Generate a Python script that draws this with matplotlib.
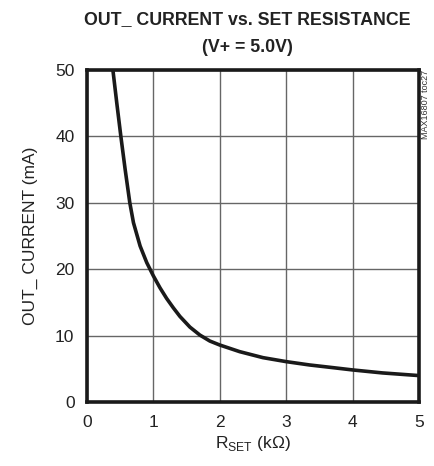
import matplotlib
matplotlib.use("Agg")
import matplotlib.pyplot as plt

# values
r_set = [0.39, 0.45, 0.51, 0.575, 0.645, 0.70, 0.80, 0.90, 1.0, 1.1, 1.2,
         1.3, 1.4, 1.55, 1.7, 1.85, 2.0, 2.3, 2.65, 3.0, 3.35, 3.7, 4.0,
         4.45, 5.0]
i_out = [50.0, 44.9, 40.0, 35.0, 30.0, 27.0, 23.5, 21.0, 19.0, 17.2, 15.6,
         14.2, 12.9, 11.3, 10.1, 9.2, 8.6, 7.6, 6.7, 6.1, 5.6, 5.2, 4.85,
         4.4, 4.0]
x_ticks = [0, 1, 2, 3, 4, 5]
y_ticks = [0, 10, 20, 30, 40, 50]

plt.rcParams['font.family'] = ['Liberation Sans', 'DejaVu Sans']
plt.rcParams['mathtext.fontset'] = 'custom'
plt.rcParams['mathtext.rm'] = 'Liberation Sans'

fig = plt.figure(figsize=(4.35, 4.66), dpi=100)
ax = fig.add_axes([0.2, 0.137, 0.763, 0.713])

ax.plot(r_set, i_out, color='#1a1a1a', linewidth=2.6, solid_capstyle='butt',
        solid_joinstyle='round', zorder=3)

ax.set_xlim(0, 5)
ax.set_ylim(0, 50)
ax.set_xticks(x_ticks)
ax.set_yticks(y_ticks)
ax.tick_params(length=0, labelsize=12.5, pad=9, colors='#222222')
ax.grid(True, color='#666666', linewidth=1.0)
ax.set_axisbelow(True)
for s in ax.spines.values():
    s.set_linewidth(2.6)
    s.set_color('#1a1a1a')

ax.set_xlabel(r'R$_{\mathregular{SET}}$ (k$\Omega$)', fontsize=12.5, labelpad=3, color='#222222')
ax.set_ylabel('OUT_ CURRENT (mA)', fontsize=12.5, labelpad=12, color='#222222')

fig.text(0.569, 0.958, 'OUT_ CURRENT vs. SET RESISTANCE', ha='center', va='center',
         fontsize=12.8, fontweight='bold', color='#222222')
fig.text(0.569, 0.899, '(V+ = 5.0V)', ha='center', va='center',
         fontsize=12.8, fontweight='bold', color='#222222')
fig.text(0.978, 0.85, 'MAX16807 toc27', rotation=90, ha='center', va='top',
         fontsize=6.5, color='#333333')

fig.savefig('out.png', dpi=100)
